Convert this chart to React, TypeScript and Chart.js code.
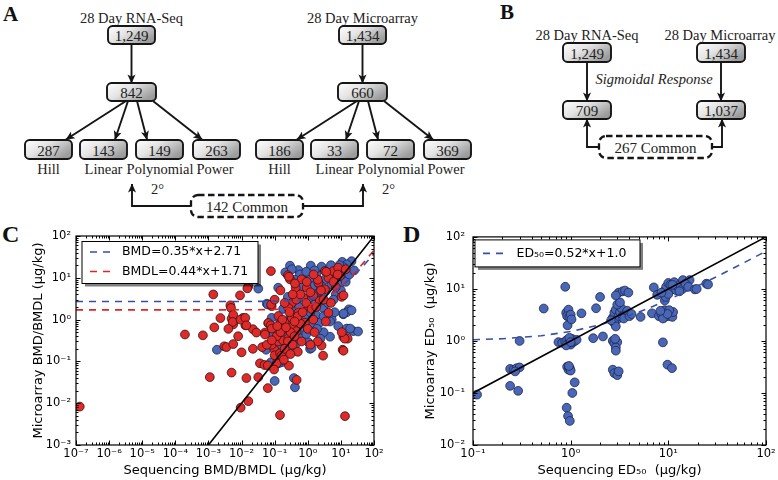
import React, { useEffect, useRef } from "react";
import { Chart, registerables } from "chart.js";

Chart.register(...registerables);

const SANS = '"DejaVu Sans", sans-serif';
const SERIF = '"Liberation Serif", "Times New Roman", serif';

// ---------------- Panel C data (sequencing vs microarray, µg/kg) ----------------
const cBmd: [number, number][] = [
  [0.0018, 0.19], [0.032, 5.5], [0.058, 2.4], [0.062, 2.3], [0.128, 5.8], [0.077, 0.095], [0.16, 0.095], [0.1, 0.034], [0.38, 0.04], [0.41, 0.024],
  [1.03, 0.29], [1.17, 0.2], [4.7, 0.39], [0.055, 0.19], [0.13, 0.22], [0.29, 0.22], [0.43, 0.26], [0.29, 19.5], [0.52, 15.3], [1.23, 19.5],
  [2.6, 17.4], [21, 25], [0.21, 13.5], [0.66, 10.6], [0.33, 16], [0.58, 12], [0.83, 8.4], [1.25, 10], [1.47, 6.3], [2.6, 18.5],
  [11, 24], [15, 21], [5.3, 7], [2.1, 4.4], [1.04, 3.1], [0.46, 2.8], [0.37, 1.6], [0.73, 1.76], [1.65, 2.3], [2.9, 1.9],
  [5.3, 1.0], [8.3, 0.7], [11.8, 1.34], [17.5, 1.76], [16.7, 0.6], [23.6, 0.53], [33, 0.52], [0.145, 1.0], [0.26, 0.7], [0.65, 0.59],
  [1.17, 0.77], [2.3, 0.85], [0.081, 1.1], [0.091, 0.45], [15, 1.5], [21, 1.67], [12, 1.4], [15, 0.61], [19, 0.61], [3.0, 0.5],
  [4.7, 0.9], [2.4, 0.35], [1.3, 0.21], [0.22, 0.25], [0.13, 0.09], [4.0, 14], [6, 12], [8, 16], [3.2, 9], [1.8, 12],
  [0.9, 14], [2.2, 7], [3.5, 5], [7, 4], [9, 7], [12, 10], [0.45, 4.5], [0.7, 6], [1.5, 4], [2.5, 3],
  [0.35, 0.6], [0.5, 1.0], [0.8, 1.2], [1.8, 1.3], [4, 2.5], [6, 3], [10, 5], [14, 8], [0.2, 0.4], [0.6, 0.35],
  [0.15, 0.15], [0.9, 0.45], [1.9, 0.6], [6.5, 1.5], [12, 18], [9, 20], [0.4, 9], [0.25, 3.5], [18, 12], [25, 15],
  [7, 10], [3, 1.2], [0.55, 2.0], [1.2, 1.5], [2.8, 6], [0.18, 1.8], [0.3, 1.2], [0.12, 0.6], [5, 20], [1.6, 15],
];

const cBmdl: [number, number][] = [
  [1.3e-7, 0.0083], [0.0014, 4.0], [0.000195, 0.44], [0.00068, 0.42], [0.0023, 1.09], [0.0015, 0.65], [0.003, 0.23], [0.0011, 0.042], [0.0035, 0.22], [0.0056, 0.26],
  [0.01, 0.165], [0.022, 0.2], [0.042, 0.22], [0.005, 0.054], [0.014, 0.04], [0.032, 0.042], [0.036, 0.09], [0.049, 0.082], [0.115, 0.09], [0.27, 0.079],
  [0.062, 0.023], [0.46, 0.036], [0.016, 0.0112], [0.0094, 0.0078], [0.145, 0.0052], [13.3, 0.0049], [2.6, 0.24], [2.9, 0.137], [11.3, 0.19], [11.8, 0.39],
  [16, 0.35], [0.5, 0.17], [0.098, 0.19], [0.081, 0.25], [0.13, 0.3], [0.18, 0.32], [0.26, 0.36], [0.1, 0.14], [0.145, 0.156], [0.16, 0.137],
  [0.0046, 2.2], [0.0048, 1.9], [0.005, 1.05], [0.0056, 0.77], [0.011, 1.1], [0.013, 0.73], [0.016, 6.3], [0.015, 5.6], [0.081, 2.1], [0.077, 14.5],
  [0.25, 11.5], [0.29, 9.2], [0.43, 5.8], [0.65, 9.2], [0.93, 5.8], [2.1, 7.6], [3.3, 14.5], [4.2, 10], [5.9, 14.5], [8.3, 17.5],
  [14, 16], [9.4, 11], [3.3, 5.3], [1.47, 3.7], [0.73, 3.35], [0.33, 2.5], [0.26, 1.9], [0.52, 1.46], [1.04, 2.1], [2.3, 2.8],
  [4.2, 1.46], [10.5, 3.5], [0.13, 1.22], [0.2, 0.85], [0.18, 0.59], [0.37, 0.7], [0.46, 0.53], [0.82, 0.85], [1.47, 1.0], [0.33, 1.1],
  [0.064, 0.82], [0.051, 0.49], [0.115, 0.4], [0.022, 0.59], [0.0079, 0.4], [0.009, 3.8], [0.0056, 1.3], [0.0054, 0.88], [0.0094, 1.0], [0.013, 1.1],
  [0.014, 0.73], [0.004, 0.6], [0.028, 0.49], [0.051, 0.44], [0.058, 0.25], [12, 3.8], [13, 0.35], [10.6, 0.5], [12, 0.18], [0.078, 2.3],
  [0.065, 0.83], [0.076, 0.73], [0.082, 0.61], [0.082, 0.32], [0.062, 0.08], [0.096, 0.064], [0.27, 10.6], [0.41, 7.3], [0.93, 8], [3.6, 13.9],
  [0.3, 0.5], [0.4, 0.4], [0.25, 0.3], [0.6, 0.8], [0.2, 0.2], [0.35, 0.25], [0.15, 0.5], [0.5, 1.2], [0.7, 1.5], [0.9, 2.5],
  [1.3, 1.8], [1.8, 2.0], [0.45, 3.0], [0.6, 4.0], [1.2, 4.5], [2.5, 5.0], [0.28, 1.5], [0.17, 1.0], [0.12, 0.7], [0.22, 0.65],
  [0.4, 0.9], [0.65, 0.3], [1.0, 0.6], [1.6, 0.5], [0.3, 0.15], [0.19, 0.11], [3, 3], [5, 2.5], [7, 6], [2, 9],
  [1.5, 12], [0.2, 2.5], [0.1, 3.0], [0.15, 5], [0.35, 4], [6, 8], [8, 12], [3.5, 0.9], [2.0, 0.3], [1.2, 0.25],
];

const cXTicks = [1e-7, 1e-6, 1e-5, 1e-4, 1e-3, 1e-2, 1e-1, 1, 10, 100];
const cXLabels = ["10⁻⁷", "10⁻⁶", "10⁻⁵", "10⁻⁴", "10⁻³", "10⁻²", "10⁻¹", "10⁰", "10¹", "10²"];
const cYTicks = [1e-3, 1e-2, 1e-1, 1, 10, 100];
const cYLabels = ["10⁻³", "10⁻²", "10⁻¹", "10⁰", "10¹", "10²"];
const bmdFit = { slope: 0.35, intercept: 2.71 };
const bmdlFit = { slope: 0.44, intercept: 1.71 };
const cFitX = [1e-7, 1e-5, 1e-3, 1e-2, 0.05, 0.1, 0.2, 0.5, 1, 2, 3, 5, 7, 10, 15, 20, 30, 50, 70, 100];
const cIdentity = [1e-3, 100];

// ---------------- Panel D data (ED50, µg/kg) ----------------
const dEd50: [number, number][] = [
  [0.11, 0.093], [0.24, 0.29], [0.26, 0.28], [0.28, 0.3], [0.3, 0.31], [0.27, 0.26], [0.24, 0.137], [0.29, 0.11], [0.3, 1.0], [0.53, 4.2],
  [0.88, 11], [0.9, 3.5], [0.95, 4.0], [0.92, 3.0], [0.97, 2.9], [1.0, 3.2], [0.93, 2.0], [1.02, 2.6], [1.29, 3.4], [0.75, 0.95],
  [0.82, 0.92], [0.88, 0.98], [0.92, 1.05], [0.95, 0.9], [0.98, 1.0], [1.0, 0.85], [1.03, 1.1], [1.06, 0.95], [1.1, 1.0], [1.15, 1.05],
  [0.9, 0.82], [0.97, 1.15], [1.0, 0.95], [0.92, 0.32], [0.95, 0.28], [0.98, 0.3], [1.0, 0.27], [0.96, 0.33], [1.1, 0.16], [1.04, 0.1],
  [0.91, 0.052], [0.94, 0.036], [0.98, 0.029], [1.7, 1.13], [2.14, 1.22], [1.82, 4.25], [2.0, 7.0],
  [2.7, 2.8], [2.8, 3.5], [2.9, 4.0], [3.0, 2.6], [3.1, 3.0], [2.8, 2.2], [2.9, 1.9], [3.2, 3.6], [3.3, 4.3], [3.0, 5.0],
  [3.2, 5.5], [3.4, 3.0], [3.6, 3.2], [3.8, 3.8], [3.1, 8.5], [3.4, 9.0], [3.6, 9.3], [3.9, 8.5], [2.9, 7.5], [2.7, 1.0],
  [2.8, 0.9], [3.0, 0.95], [2.9, 0.75], [2.85, 1.1], [2.9, 0.65], [2.7, 0.28], [2.8, 0.24], [3.0, 0.22], [3.1, 0.26], [2.6, 2.5],
  [3.5, 2.7], [4.0, 3.0], [4.2, 3.3], [5.2, 2.9], [6.8, 3.4], [7.1, 10.7], [7.7, 7.7],
  [8.0, 3.0], [8.5, 3.3], [9.0, 2.8], [9.5, 3.5], [10, 3.0], [10.5, 3.2], [11, 2.9], [11.2, 3.6], [9.2, 3.9], [8.8, 2.7],
  [10.2, 3.9], [9.8, 3.3], [8.3, 3.8], [8.8, 0.94], [9.8, 0.35], [10.9, 0.3],
  [9, 9], [9.5, 11], [10, 13], [10.5, 12], [11, 10], [11.5, 13.5], [12, 9.5], [12.5, 11], [13, 12], [14, 10],
  [14.1, 14.8], [16.5, 14.8], [15, 12.5], [16, 11], [18.7, 9.8], [19.5, 10], [24.5, 12.6], [25.5, 12.2], [9.2, 6], [9.4, 7],
  [10, 8], [8.5, 8.5], [13, 9], [11, 12],
];
const dXTicks = [0.1, 1, 10, 100];
const dXLabels = ["10⁻¹", "10⁰", "10¹", "10²"];
const dYTicks = [0.01, 0.1, 1, 10, 100];
const dYLabels = ["10⁻²", "10⁻¹", "10⁰", "10¹", "10²"];
const ed50Fit = { slope: 0.52, intercept: 1.0 };
const dFitX = [0.1, 0.2, 0.5, 1, 2, 3, 5, 7, 10, 15, 20, 30, 50, 70, 100];
const dIdentity = [0.1, 100];

// ---------------- styles ----------------
const BLUE = "#4a67b6";
const BLUE_EDGE = "#1c2450";
const RED = "#dd2b2b";
const RED_EDGE = "#3c0d0d";
const BLUE_LINE = "#3550a8";
const RED_LINE = "#e02525";

// ---------------- plugins ----------------
const frameTicks = {
  id: "frameTicks",
  afterDraw(chart: any) {
    const { ctx, chartArea: a, scales } = chart;
    ctx.save();
    ctx.strokeStyle = "#000";
    ctx.lineWidth = 1;
    const draw = (scale: any, horizontal: boolean) => {
      const lo = Math.floor(Math.log10(scale.min));
      const hi = Math.ceil(Math.log10(scale.max));
      for (let e = lo; e <= hi; e++) {
        for (let m = 1; m <= 9; m++) {
          const v = m * Math.pow(10, e);
          if (v < scale.min * 0.999 || v > scale.max * 1.001) continue;
          const len = m === 1 ? 4.5 : 2.5;
          const p = Math.round(scale.getPixelForValue(v)) + 0.5;
          ctx.beginPath();
          if (horizontal) {
            ctx.moveTo(p, a.bottom);
            ctx.lineTo(p, a.bottom - len);
            ctx.moveTo(p, a.top);
            ctx.lineTo(p, a.top + len);
          } else {
            ctx.moveTo(a.left, p);
            ctx.lineTo(a.left + len, p);
            ctx.moveTo(a.right, p);
            ctx.lineTo(a.right - len, p);
          }
          ctx.stroke();
        }
      }
    };
    draw(scales.x, true);
    draw(scales.y, false);
    ctx.lineWidth = 1.2;
    ctx.strokeRect(a.left, a.top, a.right - a.left, a.bottom - a.top);
    ctx.restore();
  },
};

const boxLegend = {
  id: "boxLegend",
  afterDraw(chart: any, _args: any, opts: any) {
    if (!opts || !opts.items) return;
    const { ctx, chartArea: a } = chart;
    const x = a.left + opts.dx;
    const y = a.top + opts.dy;
    ctx.save();
    ctx.fillStyle = "rgba(0,0,0,0.5)";
    ctx.fillRect(x + 3, y + 3, opts.w, opts.h);
    ctx.fillStyle = "#fff";
    ctx.fillRect(x, y, opts.w, opts.h);
    ctx.strokeStyle = "#000";
    ctx.lineWidth = 1;
    ctx.strokeRect(x, y, opts.w, opts.h);
    opts.items.forEach((it: any, i: number) => {
      const cy = y + opts.firstY + i * opts.gap;
      ctx.strokeStyle = it.color;
      ctx.lineWidth = 1.6;
      ctx.setLineDash([7, 6]);
      ctx.beginPath();
      ctx.moveTo(x + opts.lineX0, cy);
      ctx.lineTo(x + opts.lineX1, cy);
      ctx.stroke();
      ctx.setLineDash([]);
      ctx.fillStyle = "#000";
      ctx.font = `12.5px ${SANS}`;
      ctx.textBaseline = "middle";
      ctx.textAlign = "left";
      ctx.fillText(it.text, x + opts.textX, cy);
    });
    ctx.restore();
  },
};

function logAxis(opts: {
  min: number;
  max: number;
  ticks: number[];
  labels: string[];
  title: string;
  horizontal: boolean;
  size: number;
  tickPad: number;
  titlePad: any;
}) {
  return {
    type: "logarithmic",
    position: opts.horizontal ? "bottom" : "left",
    min: opts.min,
    max: opts.max,
    afterBuildTicks: (s: any) => {
      s.ticks = opts.ticks.map((v) => ({ value: v }));
    },
    afterFit: (s: any) => {
      if (opts.horizontal) s.height = opts.size;
      else s.width = opts.size;
    },
    ticks: {
      autoSkip: false,
      maxRotation: 0,
      minRotation: 0,
      padding: opts.tickPad,
      color: "#000",
      font: { family: SANS, size: 11.5 },
      callback: (_v: any, i: number) => opts.labels[i],
    },
    grid: { display: false, drawTicks: false },
    border: { display: false },
    title: {
      display: true,
      text: opts.title,
      color: "#000",
      font: { family: SANS, size: 13 },
      padding: opts.titlePad,
    },
  };
}

function scatterSet(pts: [number, number][], bg: string, edge: string, order: number) {
  return {
    data: pts.map(([x, y]) => ({ x, y })),
    backgroundColor: bg,
    borderColor: edge,
    borderWidth: 0.8,
    pointRadius: 4.4,
    pointHoverRadius: 4.4,
    showLine: false,
    order,
  };
}

function lineSet(xs: number[], f: (x: number) => number, color: string, dash: number[], order: number) {
  return {
    data: xs.map((x) => ({ x, y: f(x) })),
    borderColor: color,
    backgroundColor: color,
    borderWidth: 1.6,
    borderDash: dash,
    pointRadius: 0,
    showLine: true,
    fill: false,
    order,
  };
}

function ChartPanel({ left, top, width, height, config }: any) {
  const ref = useRef<HTMLCanvasElement | null>(null);
  useEffect(() => {
    if (!ref.current) return;
    const chart = new Chart(ref.current, config);
    return () => chart.destroy();
  }, []);
  return (
    <canvas
      ref={ref}
      width={width}
      height={height}
      style={{ position: "absolute", left, top, width, height }}
    />
  );
}

const configC: any = {
  type: "scatter",
  data: {
    datasets: [
      lineSet(cIdentity, (x) => x, "#000", [], 0),
      lineSet(cFitX, (x) => bmdFit.slope * x + bmdFit.intercept, BLUE_LINE, [7, 6], 0),
      lineSet(cFitX, (x) => bmdlFit.slope * x + bmdlFit.intercept, RED_LINE, [7, 6], 0),
      scatterSet(cBmdl, RED, RED_EDGE, 1),
      scatterSet(cBmd, BLUE, BLUE_EDGE, 2),
    ],
  },
  options: {
    responsive: false,
    animation: false,
    devicePixelRatio: 1,
    events: [],
    layout: { padding: { top: 14, right: 16, left: 0, bottom: 0 } },
    plugins: {
      legend: { display: false },
      tooltip: { enabled: false },
      boxLegend: {
        dx: 6, dy: 5.5, w: 176, h: 42, firstY: 10.5, gap: 19.5, lineX0: 8, lineX1: 29, textX: 40,
        items: [
          { color: BLUE_LINE, text: "BMD=0.35*x+2.71" },
          { color: RED_LINE, text: "BMDL=0.44*x+1.71" },
        ],
      },
    },
    scales: {
      x: logAxis({ min: 1e-7, max: 100, ticks: cXTicks, labels: cXLabels, title: "Sequencing BMD/BMDL (μg/kg)", horizontal: true, size: 35, tickPad: 2, titlePad: { top: 0, bottom: 1.2 } }),
      y: logAxis({ min: 1e-3, max: 100, ticks: cYTicks, labels: cYLabels, title: "Microarray BMD/BMDL (μg/kg)", horizontal: false, size: 76, tickPad: 5, titlePad: { top: 31, bottom: 0 } }),
    },
  },
  plugins: [frameTicks, boxLegend],
};

const configD: any = {
  type: "scatter",
  data: {
    datasets: [
      lineSet(dIdentity, (x) => x, "#000", [], 0),
      lineSet(dFitX, (x) => ed50Fit.slope * x + ed50Fit.intercept, BLUE_LINE, [7, 6], 0),
      scatterSet(dEd50, BLUE, BLUE_EDGE, 1),
    ],
  },
  options: {
    responsive: false,
    animation: false,
    devicePixelRatio: 1,
    events: [],
    layout: { padding: { top: 14, right: 12, left: 0, bottom: 0 } },
    plugins: {
      legend: { display: false },
      tooltip: { enabled: false },
      boxLegend: {
        dx: 2, dy: 3, w: 165, h: 27, firstY: 13.5, gap: 0, lineX0: 8, lineX1: 29, textX: 41.5,
        items: [{ color: BLUE_LINE, text: "ED₅₀=0.52*x+1.0" }],
      },
    },
    scales: {
      x: logAxis({ min: 0.1, max: 100, ticks: dXTicks, labels: dXLabels, title: "Sequencing ED₅₀  (μg/kg)", horizontal: true, size: 35, tickPad: 2, titlePad: { top: 0, bottom: 1.2 } }),
      y: logAxis({ min: 0.01, max: 100, ticks: dYTicks, labels: dYLabels, title: "Microarray ED₅₀  (μg/kg)", horizontal: false, size: 83, tickPad: 8, titlePad: { top: 33, bottom: 0 } }),
    },
  },
  plugins: [frameTicks, boxLegend],
};

// ---------------- flow diagrams (panels A and B) ----------------
const STROKE = "#151515";
const DFONT = 14.5;

function Box({ x, y, w, h, label }: any) {
  return (
    <g>
      <rect x={x} y={y} width={w} height={h} rx={4.5} ry={4.5} fill="url(#boxGrad)" stroke={STROKE} strokeWidth={1.9} />
      <text x={x + w / 2} y={y + h / 2 + 1} textAnchor="middle" dominantBaseline="central" fontFamily={SERIF} fontSize={15} fill="#222">
        {label}
      </text>
    </g>
  );
}

function DashBox({ x, y, w, h, label }: any) {
  return (
    <g>
      <rect x={x} y={y} width={w} height={h} rx={7} ry={7} fill="#fff" stroke={STROKE} strokeWidth={2.3} strokeDasharray="6.5 3.5" />
      <text x={x + w / 2} y={y + h / 2 + 1} textAnchor="middle" dominantBaseline="central" fontFamily={SERIF} fontSize={15} fill="#222">
        {label}
      </text>
    </g>
  );
}

function Label({ x, y, children, italic }: any) {
  return (
    <text x={x} y={y} textAnchor="middle" dominantBaseline="central" fontFamily={SERIF} fontSize={DFONT} fontStyle={italic ? "italic" : "normal"} fill="#222">
      {children}
    </text>
  );
}

function Arrow({ pts }: any) {
  return <polyline points={pts} fill="none" stroke={STROKE} strokeWidth={1.9} markerEnd="url(#arrowHead)" />;
}

const groupA = [
  { dx: 0, title: "28 Day RNA-Seq", total: "1,249", mid: "842", leaves: ["287", "143", "149", "263"] },
  { dx: 231, title: "28 Day Microarray", total: "1,434", mid: "660", leaves: ["186", "33", "72", "369"] },
];
const leafNames = ["Hill", "Linear", "Polynomial", "Power"];

function Diagrams() {
  const leafX = [25, 80, 136, 193];
  const labelX = [48.5, 103.5, 160, 215];
  const arrowStart = [126, 128, 137, 153];
  const arrowEnd = [66, 115, 147, 202];
  return (
    <svg width={778} height={480} style={{ position: "absolute", left: 0, top: 0 }}>
      <defs>
        <linearGradient id="boxGrad" x1="0" y1="0" x2="1" y2="0.6">
          <stop offset="0" stopColor="#ffffff" />
          <stop offset="0.45" stopColor="#e4e4e4" />
          <stop offset="1" stopColor="#9c9c9c" />
        </linearGradient>
        <marker id="arrowHead" viewBox="0 0 10 10" refX="9.5" refY="5" markerWidth="9" markerHeight="9" markerUnits="userSpaceOnUse" orient="auto">
          <path d="M0,0.5 L10,5 L0,9.5 L2.5,5 z" fill={STROKE} />
        </marker>
      </defs>

      {/* panel letters */}
      <text x={3} y={20.5} fontFamily={SERIF} fontWeight="bold" fontSize={21} fill="#111">A</text>
      <text x={500} y={18.5} fontFamily={SERIF} fontWeight="bold" fontSize={21} fill="#111">B</text>
      <text x={2} y={242} fontFamily={SERIF} fontWeight="bold" fontSize={24} fill="#111">C</text>
      <text x={403} y={242} fontFamily={SERIF} fontWeight="bold" fontSize={24} fill="#111">D</text>

      {/* panel A */}
      {groupA.map((g, gi) => (
        <g key={gi}>
          <Label x={131.5 + g.dx} y={18}>{g.title}</Label>
          <Arrow pts={`${131.5 + g.dx},44 ${131.5 + g.dx},83`} />
          <Box x={108 + g.dx} y={26} w={47} h={18} label={g.total} />
          {arrowStart.map((s, i) => (
            <Arrow key={i} pts={`${s + g.dx},101 ${arrowEnd[i] + g.dx},139.5`} />
          ))}
          <Box x={107 + g.dx} y={83} w={49} h={18} label={g.mid} />
          {g.leaves.map((lv, i) => (
            <Box key={i} x={leafX[i] + g.dx} y={140} w={47} h={19} label={lv} />
          ))}
          {leafNames.map((n, i) => (
            <Label key={i} x={labelX[i] + g.dx} y={169}>{n}</Label>
          ))}
          <Label x={157.5 + g.dx} y={189}>2°</Label>
        </g>
      ))}
      <Arrow pts="191,206 132,206 132,184" />
      <Arrow pts="303,206 363,206 363,184" />
      <DashBox x={191} y={195} w={112} h={22} label="142 Common" />

      {/* panel B */}
      <Label x={587} y={35}>28 Day RNA-Seq</Label>
      <Label x={720} y={35}>28 Day Microarray</Label>
      <Arrow pts="587,62 587,101" />
      <Arrow pts="721,62 721,101" />
      <Box x={563} y={43} w={48} h={19} label="1,249" />
      <Box x={697} y={43} w={48} h={19} label="1,434" />
      <Label x={654} y={79} italic>Sigmoidal Response</Label>
      <Box x={563} y={101} w={48} h={18} label="709" />
      <Box x={697} y={101} w={48} h={18} label="1,037" />
      <Arrow pts="599,147 587,147 587,119" />
      <Arrow pts="712,147 722,147 722,119" />
      <DashBox x={599} y={136} w={113} h={22} label="267 Common" />
    </svg>
  );
}

export default function App() {
  return (
    <div style={{ position: "absolute", left: 0, top: 0, width: 778, height: 480, background: "#fff", overflow: "hidden" }}>
      <Diagrams />
      <ChartPanel left={0} top={222} width={390} height={258} config={configC} />
      <ChartPanel left={390} top={222} width={388} height={258} config={configD} />
    </div>
  );
}
